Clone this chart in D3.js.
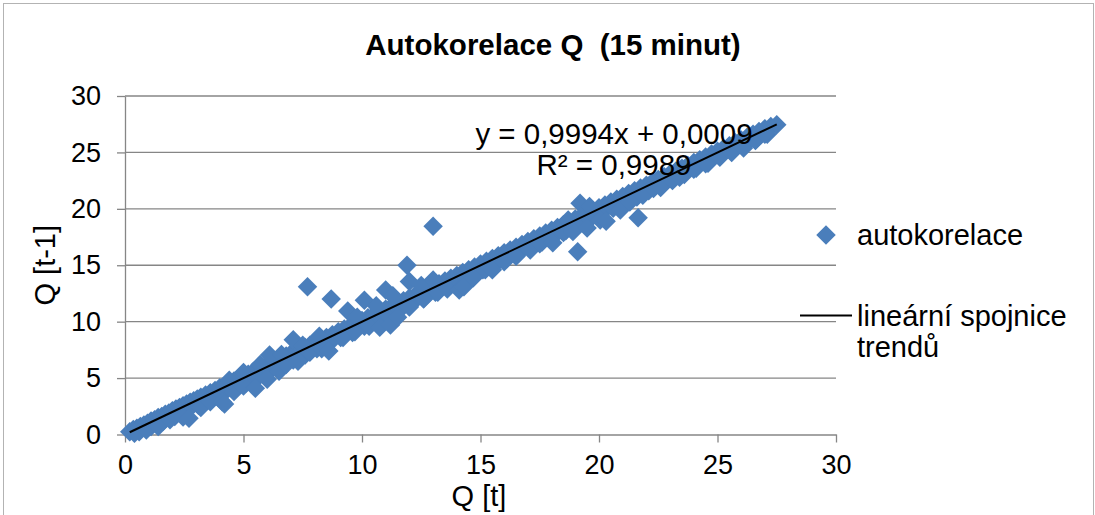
<!DOCTYPE html>
<html>
<head>
<meta charset="utf-8">
<script src="https://cdn.jsdelivr.net/npm/d3@7"></script>
<style>
  body { margin: 0; background: #fff; }
  text { font-family: "Liberation Sans", Arial, sans-serif; fill: #000; white-space: pre; }
</style>
</head>
<body>
<svg id="chart" width="1095" height="515"></svg>
<script>
// [Q[t], Q[t-1]]
const bandPoints = [
  [0.20,0.25],[0.35,0.45],[0.50,0.55],[0.65,0.70],[0.80,0.85],[0.95,1.00],[1.10,1.20],[1.25,1.30],
  [1.40,1.50],[1.55,1.60],[1.70,1.80],[1.85,1.90],[2.00,2.10],[2.15,2.25],[2.30,2.40],[2.45,2.55],
  [2.60,2.70],[2.75,2.85],[2.90,3.00],[3.05,3.15],[3.20,3.30],[3.40,3.50],[3.60,3.70],[3.80,3.90],
  [4.00,4.15],[4.20,4.30],[4.40,4.55],[4.60,4.75],[4.80,4.95],[5.00,5.15],[5.20,5.35],[5.40,5.55],
  [5.60,5.75],[5.80,5.95],[6.00,6.15],[6.20,6.35],[6.40,6.55],[6.60,6.75],[6.80,6.95],[7.00,7.15],
  [7.20,7.30],[7.40,7.50],[7.60,7.70],[7.80,7.90],[8.00,8.10],[8.25,8.35],[8.50,8.60],[8.75,8.85],
  [9.00,9.10],[9.25,9.35],[9.50,9.60],[9.75,9.85],[10.00,10.10],[10.25,10.35],[10.50,10.60],[10.75,10.85],
  [11.00,11.10],[11.25,11.35],[11.50,11.60],[11.75,11.85],[12.00,12.10],[12.25,12.35],[12.50,12.60],[12.75,12.85],
  [13.00,13.10],[13.25,13.35],[13.50,13.60],[13.75,13.85],[14.00,14.10],[14.25,14.35],[14.50,14.60],[14.75,14.85],
  [15.00,15.10],[15.25,15.35],[15.50,15.60],[15.75,15.85],[16.00,16.10],[16.25,16.35],[16.50,16.60],[16.75,16.85],
  [17.00,17.10],[17.25,17.35],[17.50,17.60],[17.75,17.85],[18.00,18.10],[18.25,18.35],[18.50,18.60],[18.75,18.85],
  [19.00,19.10],[19.25,19.35],[19.50,19.60],[19.75,19.85],[20.00,20.10],[20.25,20.35],[20.50,20.60],[20.75,20.85],
  [21.00,21.10],[21.25,21.35],[21.50,21.60],[21.75,21.85],[22.00,22.10],[22.25,22.35],[22.50,22.60],[22.75,22.85],
  [23.00,23.10],[23.25,23.35],[23.50,23.60],[23.75,23.85],[24.00,24.10],[24.25,24.35],[24.50,24.60],[24.75,24.85],
  [25.00,25.10],[25.25,25.35],[25.50,25.60],[25.75,25.85],[26.00,26.10],[26.25,26.35],[26.50,26.60],[26.75,26.85],
  [27.00,27.10],[27.25,27.30],[27.50,27.45]
]
const lowerRow = [
  [0.6,0.25],[1.1,0.7],[1.6,1.15],[2.1,1.6],[2.6,2.05],[3.1,2.6],[3.6,3.15],[4.1,3.55],[4.6,4.1],[5.1,4.55],
  [5.6,5.05],[6.1,5.6],[6.6,6.05],[7.1,6.6],[7.6,7.05],[8.1,7.6],[8.6,8.05],[9.1,8.6],[9.6,9.05],[10.1,9.6],
  [10.6,10.05],[11.1,10.6],[11.6,11.05],[12.1,11.6],[12.6,12.05],[13.1,12.6],[13.6,13.05],[14.1,13.6],[14.6,14.05],
  [15.1,14.6],[15.6,15.05],[16.1,15.6],[16.6,16.05],[17.1,16.6],[17.6,17.05],[18.1,17.6],[18.6,18.05],[19.1,18.6],
  [19.6,19.05],[20.1,19.6],[20.6,20.05],[21.1,20.6],[21.6,21.05],[22.1,21.6],[22.6,22.05],[23.1,22.6],[23.6,23.05],
  [24.1,23.6],[24.6,24.05],[25.1,24.6],[25.6,25.05],[26.1,25.6],[26.6,26.05],[27.1,26.6]
]
const lowerPoints = [
  [0.4,0.1],[0.9,0.4],[1.4,0.7],[1.9,1.3],[2.45,1.55],[2.7,1.45],[3.2,2.4],[3.6,2.9],[4.1,2.9],[4.2,2.7],
  [4.6,3.8],[5.0,4.3],[5.5,4.1],[6.0,4.9],[6.5,5.6],[6.8,6.2],[7.3,6.5],[7.8,7.3],[8.3,7.6],[8.6,7.4],
  [9.2,8.6],[9.7,9.1],[10.3,9.6],[10.75,9.5],[11.2,9.7],[11.5,10.4],[12.0,11.3],[12.6,12.0],[13.2,12.6],
  [13.6,12.9],[14.1,12.8],[14.3,13.1],[14.7,13.9],[15.2,14.6],[15.5,14.6],[16.0,15.3],[16.5,15.8],
  [17.1,16.35],[17.5,16.9],[18.05,17.0],[18.5,17.9],[18.9,18.0],[19.1,16.2],[19.5,18.3],[20.05,19.0],
  [20.3,18.9],[20.9,19.9],[21.3,20.6],[21.65,19.2],[21.85,21.2],[22.3,21.8],[22.6,21.9],[23.1,22.5],
  [23.4,22.8],[24.0,23.5],[24.5,24.0],[25.1,24.6],[25.6,25.0],[26.1,25.4],[26.6,26.1],[27.0,26.6]
]
const upperPoints = [
  [4.4,4.8],[5.0,5.5],[5.7,6.2],[6.1,7.05],[6.6,7.1],[7.1,8.4],[7.5,7.9],[8.2,8.7],[9.4,10.95],
  [9.8,10.4],[10.1,11.9],[10.6,11.4],[11.0,12.8],[11.3,12.3],[11.9,15.0],[12.0,13.55],[12.5,13.2],
  [13.0,13.7],[18.7,19.0],[19.2,20.5],[19.6,20.2]
]
const outlierPoints = [[7.7,13.1],[8.7,12.0],[13.0,18.45]]

const xTicks = [0, 5, 10, 15, 20, 25, 30]
const yTicks = [0, 5, 10, 15, 20, 25, 30]
const slope = 0.9994
const intercept = 0.0009
const equationLines = ['y = 0,9994x + 0,0009', 'R² = 0,9989']

const blue = '#4A7EBB'
const grid = '#868686'

const svg = d3.select('#chart')

svg.append('rect')
  .attr('x', 3.5).attr('y', 3.5)
  .attr('width', 1090).attr('height', 530)
  .attr('fill', '#fff')
  .attr('stroke', '#b3b3b3')

const x = d3.scaleLinear().domain([0, 30]).range([125, 836])
const y = d3.scaleLinear().domain([0, 30]).range([434.5, 96])

// gridlines
svg.append('g')
  .selectAll('line')
  .data(yTicks.slice(1))
  .join('line')
  .attr('x1', x(0)).attr('x2', x(30))
  .attr('y1', d => y(d)).attr('y2', d => y(d))
  .attr('stroke', grid)
  .attr('stroke-width', 1.3)

const xAxis = svg.append('g')
  .attr('transform', `translate(0,${y(0)})`)
  .call(d3.axisBottom(x).tickValues(xTicks).tickSize(8).tickPadding(12).tickSizeOuter(0))
xAxis.select('.domain').attr('stroke', grid).attr('stroke-width', 1.3)
xAxis.selectAll('.tick line').attr('stroke', grid).attr('stroke-width', 1.3)
xAxis.selectAll('.tick text').attr('font-size', 27).attr('font-family', '"Liberation Sans", Arial, sans-serif')

const yAxis = svg.append('g')
  .attr('transform', `translate(${x(0)},0)`)
  .call(d3.axisLeft(y).tickValues(yTicks).tickSize(8).tickPadding(16).tickSizeOuter(0))
yAxis.select('.domain').attr('stroke', grid).attr('stroke-width', 1.3)
yAxis.selectAll('.tick line').attr('stroke', grid).attr('stroke-width', 1.3)
yAxis.selectAll('.tick text').attr('font-size', 27).attr('font-family', '"Liberation Sans", Arial, sans-serif')

const diamond = d3.symbol(d3.symbolSquare, 190)()
const allPoints = bandPoints.concat(lowerRow, lowerPoints, upperPoints, outlierPoints)

svg.append('g')
  .selectAll('path')
  .data(allPoints)
  .join('path')
  .attr('d', diamond)
  .attr('transform', d => `translate(${x(d[0])},${y(d[1])}) rotate(45)`)
  .attr('fill', blue)

// linear trendline across the data range
const xExtent = d3.extent(allPoints, d => d[0])
svg.append('line')
  .attr('x1', x(xExtent[0])).attr('y1', y(slope * xExtent[0] + intercept))
  .attr('x2', x(xExtent[1])).attr('y2', y(slope * xExtent[1] + intercept))
  .attr('stroke', '#000')
  .attr('stroke-width', 2)

svg.append('g')
  .selectAll('text')
  .data(equationLines)
  .join('text')
  .attr('x', 614)
  .attr('y', (d, i) => 144 + i * 31)
  .attr('text-anchor', 'middle')
  .attr('font-size', 29.5)
  .text(d => d)

svg.append('text')
  .attr('x', 553).attr('y', 55)
  .attr('text-anchor', 'middle')
  .attr('font-size', 29.5)
  .attr('font-weight', 'bold')
  .text('Autokorelace Q  (15 minut)')

svg.append('text')
  .attr('x', 479).attr('y', 506)
  .attr('text-anchor', 'middle')
  .attr('font-size', 29)
  .text('Q [t]')

svg.append('text')
  .attr('transform', `translate(55,${y(15)}) rotate(-90)`)
  .attr('text-anchor', 'middle')
  .attr('font-size', 29)
  .text('Q [t-1]')

// legend
const legend = svg.append('g')
legend.append('path')
  .attr('d', diamond)
  .attr('transform', 'translate(826,235) rotate(45)')
  .attr('fill', blue)
legend.append('text')
  .attr('x', 857).attr('y', 245)
  .attr('font-size', 29)
  .text('autokorelace')
legend.append('line')
  .attr('x1', 800).attr('x2', 852)
  .attr('y1', 315.5).attr('y2', 315.5)
  .attr('stroke', '#000')
  .attr('stroke-width', 2)
legend.append('text')
  .attr('x', 857).attr('y', 326)
  .attr('font-size', 29)
  .text('lineární spojnice')
legend.append('text')
  .attr('x', 857).attr('y', 357)
  .attr('font-size', 29)
  .text('trendů')
</script>
</body>
</html>
